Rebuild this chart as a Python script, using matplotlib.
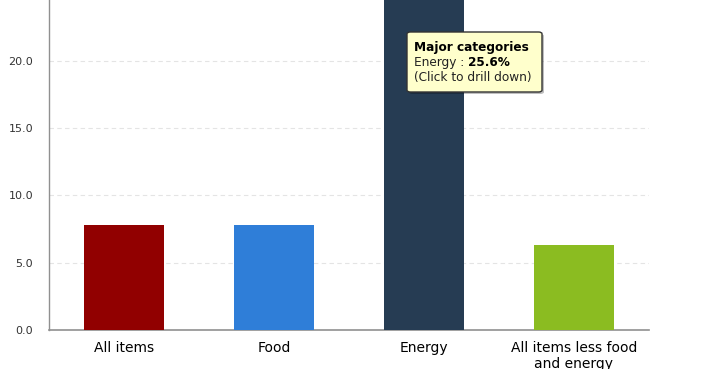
import matplotlib
matplotlib.use("Agg")
import matplotlib.pyplot as plt
from matplotlib.patches import FancyBboxPatch

categories = ["All items", "Food", "Energy", "All items less food\nand energy"]
values = [7.8, 7.8, 25.6, 6.3]
colors = ["#910000", "#2f7ed8", "#263c53", "#8bbc21"]
yticks = [0, 5, 10, 15, 20, 25]

W, H = 706, 369
fig = plt.figure(figsize=(W / 100, H / 100), dpi=100)
# axes run past the top edge of the image, like the cropped original
ax = fig.add_axes([49 / W, 39 / H, 600 / W, 30 * 13.46 / H])

x = range(len(categories))
ax.bar(x, values, width=0.53, color=colors, zorder=3)
ax.set_xlim(-0.5, 3.5)
ax.set_ylim(0, 30)
ax.set_yticks(yticks)
ax.set_yticklabels([f"{v:.1f}" for v in yticks], fontsize=8, color="#333333")
ax.set_xticks(list(x))
ax.set_xticklabels(categories, fontsize=10, color="#000000", linespacing=1.2)
ax.tick_params(axis="y", length=0, pad=11.5)
ax.tick_params(axis="x", length=0, pad=8)

ax.grid(axis="y", color="#e4e4e4", linestyle=(0, (4, 3)), linewidth=0.8, zorder=0)
for s in ["top", "right"]:
    ax.spines[s].set_visible(False)
ax.spines["left"].set_color("#909090")
ax.spines["bottom"].set_color("#909090")
ax.spines["left"].set_linewidth(1.0)
ax.spines["bottom"].set_linewidth(1.2)

# tooltip
x0, x1, y0, y1 = 407, 542, 32, 92
shadow = FancyBboxPatch(((x0 + 2) / W, 1 - (y1 + 2) / H), (x1 - x0) / W, (y1 - y0) / H,
                        boxstyle="round,pad=0,rounding_size=0.005",
                        transform=fig.transFigure, facecolor="#00000040", edgecolor="none", zorder=9)
box = FancyBboxPatch((x0 / W, 1 - y1 / H), (x1 - x0) / W, (y1 - y0) / H,
                     boxstyle="round,pad=0,rounding_size=0.005",
                     transform=fig.transFigure, facecolor="#ffffcc", edgecolor="#333333",
                     linewidth=1.0, zorder=10)
fig.patches.extend([shadow, box])

tx = 414 / W
fs = 8.7
fig.text(tx, 1 - 51 / H, "Major categories", fontsize=fs, fontweight="bold", zorder=11)
t1 = fig.text(tx, 1 - 66 / H, "Energy : ", fontsize=fs, color="#222222", zorder=11)
fig.canvas.draw()
ext = t1.get_window_extent()
fig.text(ext.x1 / W, 1 - 66 / H, f"{values[2]}%", fontsize=fs, fontweight="bold", zorder=11)
fig.text(tx, 1 - 81 / H, "(Click to drill down)", fontsize=fs, color="#222222", zorder=11)

fig.savefig("out.png", dpi=100)
